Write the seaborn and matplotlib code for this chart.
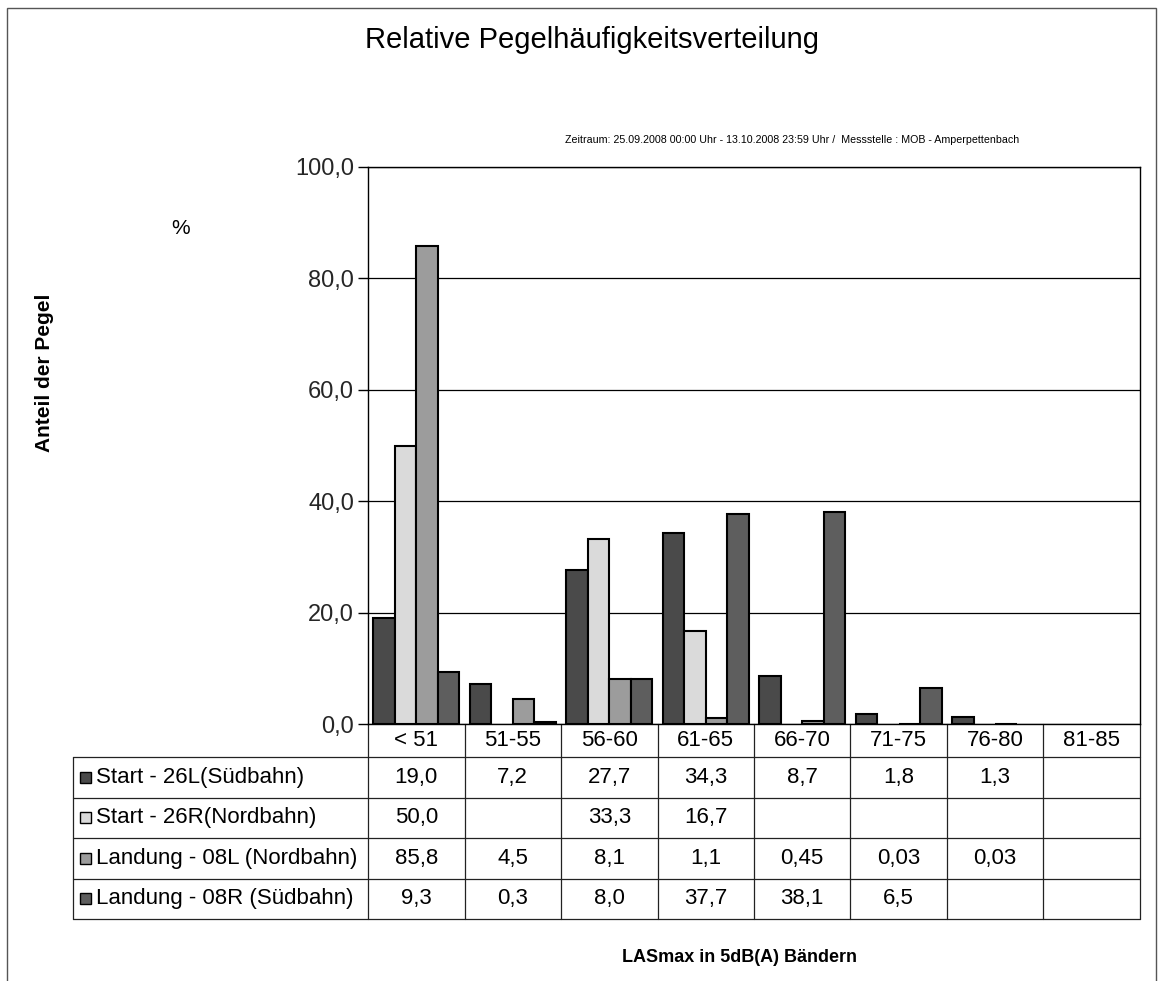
import numpy as np
import pandas as pd
import matplotlib
matplotlib.use("Agg")
import matplotlib.pyplot as plt
from matplotlib.patches import Rectangle
from matplotlib.ticker import FuncFormatter
from matplotlib.transforms import blended_transform_factory
import seaborn as sns

# ---- data -------------------------------------------------------------
bands = ["< 51", "51-55", "56-60", "61-65", "66-70", "71-75", "76-80", "81-85"]
series = [
    "Start - 26L(Südbahn)",
    "Start - 26R(Nordbahn)",
    "Landung - 08L (Nordbahn)",
    "Landung - 08R (Südbahn)",
]
start_26l = [19.0, 7.2, 27.7, 34.3, 8.7, 1.8, 1.3, np.nan]
start_26r = [50.0, np.nan, 33.3, 16.7, np.nan, np.nan, np.nan, np.nan]
landung_08l = [85.8, 4.5, 8.1, 1.1, 0.45, 0.03, 0.03, np.nan]
landung_08r = [9.3, 0.3, 8.0, 37.7, 38.1, 6.5, np.nan, np.nan]
yticks = [0, 20, 40, 60, 80, 100]

values = [start_26l, start_26r, landung_08l, landung_08r]
colors = ["#4a4a4a", "#dadada", "#9c9c9c", "#5e5e5e"]

df = pd.DataFrame(
    [(b, s, v) for s, vals in zip(series, values) for b, v in zip(bands, vals)],
    columns=["band", "series", "value"],
)

# ---- style ------------------------------------------------------------
sns.set_theme(style="white")
plt.rcParams["font.family"] = ["Liberation Sans", "DejaVu Sans"]

W, H = 1161, 981
fig = plt.figure(figsize=(W / 100, H / 100), dpi=100)
fig.patch.set_facecolor("white")

# plot area (pixel frame of the chart)
px_left, px_right, px_top, px_bottom = 368, 1140, 167, 724
ax = fig.add_axes([px_left / W, 1 - px_bottom / H,
                   (px_right - px_left) / W, (px_bottom - px_top) / H])

sns.barplot(data=df, x="band", y="value", hue="series",
            order=bands, hue_order=series, palette=colors,
            saturation=1, width=0.89, dodge=True, errorbar=None,
            edgecolor="black", linewidth=1.5, legend=False, ax=ax)

ax.set_xlim(-0.5, len(bands) - 0.5)
ax.set_ylim(0, 100)
ax.set_yticks(yticks)
ax.yaxis.set_major_formatter(FuncFormatter(lambda v, p: f"{v:.1f}".replace(".", ",")))
ax.tick_params(axis="y", which="major", direction="out", length=7, width=1,
               color="black", labelsize=17, pad=3, left=True)
ax.tick_params(axis="x", bottom=False, labelbottom=False)
ax.set_xlabel("")
ax.set_ylabel("")
ax.yaxis.grid(True, color="black", linewidth=0.9)
ax.set_axisbelow(True)
for sp in ax.spines.values():
    sp.set_visible(True)
    sp.set_color("black")
    sp.set_linewidth(1.0)

# ---- data table below the axis ---------------------------------------
ax_h = px_bottom - px_top
ax_w = px_right - px_left
hdr_h = 33 / ax_h
row_h = 40.5 / ax_h
legend_x = (73 - px_left) / ax_w
row_edges = [-hdr_h - i * row_h for i in range(len(series) + 1)]
lw_t = 0.9
tc = "#222222"

tA = ax.transAxes
tB = blended_transform_factory(ax.transData, ax.transAxes)

# column separators
for i in range(len(bands) + 1):
    x = (i - 0.5)
    ax.plot([x, x], [0, row_edges[-1]], transform=tB, color=tc, lw=lw_t,
            clip_on=False)
# legend column left edge
ax.plot([legend_x, legend_x], [row_edges[0], row_edges[-1]], transform=tA,
        color=tc, lw=lw_t, clip_on=False)
# horizontal rules
for y in row_edges:
    ax.plot([legend_x, 1], [y, y], transform=tA, color=tc, lw=lw_t,
            clip_on=False)

# header text
for i, b in enumerate(bands):
    ax.text(i, -hdr_h / 2, b, transform=tB, ha="center", va="center",
            fontsize=16, color="black")


def fmt(v):
    if np.isnan(v):
        return ""
    if abs(round(v * 10) - v * 10) > 1e-6:
        return f"{v:.2f}".replace(".", ",")
    return f"{v:.1f}".replace(".", ",")


key_w = 11 / ax_w
key_h = 11 / ax_h
for r, (name, vals, col) in enumerate(zip(series, values, colors)):
    yc = (row_edges[r] + row_edges[r + 1]) / 2
    ax.add_patch(Rectangle((legend_x + 7 / ax_w, yc - key_h / 2), key_w, key_h,
                           transform=tA, facecolor=col, edgecolor="black",
                           lw=1.0, clip_on=False))
    ax.text(legend_x + 23 / ax_w, yc, name, transform=tA, ha="left",
            va="center", fontsize=16, color="black")
    for i, v in enumerate(vals):
        ax.text(i, yc, fmt(v), transform=tB, ha="center", va="center",
                fontsize=16, color="black")

# ---- titles and labels -----------------------------------------------
fig.text(365 / W, 1 - 48 / H, "Relative Pegelhäufigkeitsverteilung",
         ha="left", va="baseline", fontsize=21, color="black")
fig.text(792 / W, 1 - 140 / H,
         "Zeitraum: 25.09.2008 00:00 Uhr - 13.10.2008 23:59 Uhr /  "
         "Messstelle : MOB - Amperpettenbach",
         ha="center", va="center", fontsize=7.7, color="black")
fig.text(181 / W, 1 - 228 / H, "%", ha="center", va="center", fontsize=15,
         color="black")
fig.text(45 / W, 1 - 373 / H, "Anteil der Pegel", rotation=90, ha="center",
         va="center", fontsize=15, fontweight="bold", color="black")
fig.text(739 / W, 1 - 958 / H, "LASmax in 5dB(A) Bändern", ha="center",
         va="center", fontsize=13, fontweight="bold", color="black")

# outer frame of the chart sheet
fig.add_artist(Rectangle((7 / W, -0.02), (1156 - 7) / W, 1 - 8 / H + 0.02,
                         transform=fig.transFigure, fill=False,
                         edgecolor="#555555", lw=1.0))

fig.savefig("out.png", dpi=100, facecolor="white")
